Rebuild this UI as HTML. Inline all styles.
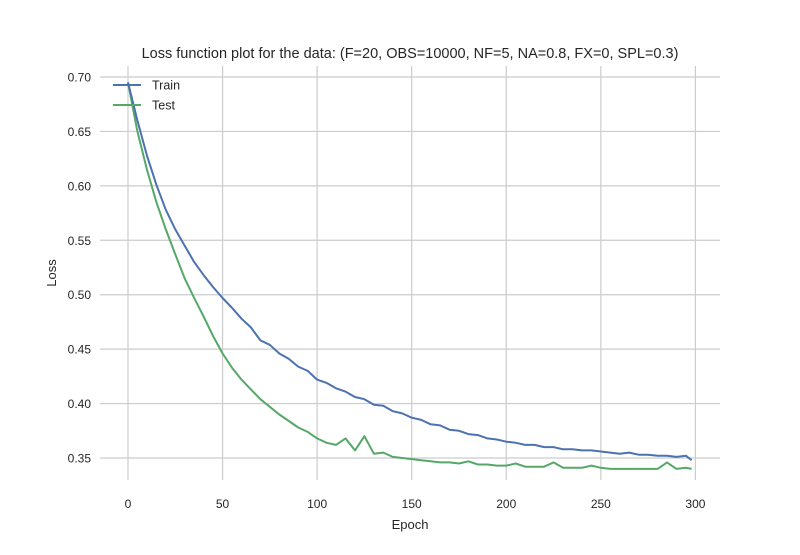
<!DOCTYPE html>
<html><head><meta charset="utf-8"><style>
body{margin:0;background:#fff;}
text{font-family:"Liberation Sans",sans-serif;fill:#262626;}
</style></head><body>
<svg id="chart" width="800" height="550" xmlns="http://www.w3.org/2000/svg">
<rect width="800" height="550" fill="#fff"/>
<g id="grid"></g>
<g id="ticks"></g>
<g id="series"></g>
<text x="410" y="58" font-size="14.5" text-anchor="middle">Loss function plot for the data: (F=20, OBS=10000, NF=5, NA=0.8, FX=0, SPL=0.3)</text>
<text x="410" y="529" font-size="13" text-anchor="middle">Epoch</text>
<text x="56" y="273" font-size="13" text-anchor="middle" transform="rotate(-90 56 273)">Loss</text>
<g>
<line x1="113" y1="85" x2="141" y2="85" stroke="#4c72b0" stroke-width="2"/>
<text x="152" y="89.5" font-size="12.5">Train</text>
<line x1="113" y1="105" x2="141" y2="105" stroke="#55a868" stroke-width="2"/>
<text x="152" y="109.5" font-size="12.5">Test</text>
</g>
</svg>
<script>
const epochs = [0,5,10,15,20,25,30,35,40,45,50,55,60,65,70,75,80,85,90,95,100,105,110,115,120,125,130,135,140,145,150,155,160,165,170,175,180,185,190,195,200,205,210,215,220,225,230,235,240,245,250,255,260,265,270,275,280,285,290,295,298];
const trainLoss = [0.695,0.660,0.628,0.601,0.578,0.560,0.545,0.530,0.518,0.507,0.497,0.488,0.478,0.470,0.458,0.454,0.446,0.441,0.434,0.430,0.422,0.419,0.414,0.411,0.406,0.404,0.399,0.398,0.393,0.391,0.387,0.385,0.381,0.380,0.376,0.375,0.372,0.371,0.368,0.367,0.365,0.364,0.362,0.362,0.360,0.360,0.358,0.358,0.357,0.357,0.356,0.355,0.354,0.355,0.353,0.353,0.352,0.352,0.351,0.352,0.348];
const testLoss = [0.695,0.650,0.615,0.585,0.560,0.537,0.515,0.497,0.480,0.462,0.446,0.433,0.422,0.413,0.404,0.397,0.390,0.384,0.378,0.374,0.368,0.364,0.362,0.368,0.357,0.370,0.354,0.355,0.351,0.350,0.349,0.348,0.347,0.346,0.346,0.345,0.347,0.344,0.344,0.343,0.343,0.345,0.342,0.342,0.342,0.346,0.341,0.341,0.341,0.343,0.341,0.340,0.340,0.340,0.340,0.340,0.340,0.346,0.340,0.341,0.340];
const xTicks = [0,50,100,150,200,250,300];
const yTicks = [0.35,0.40,0.45,0.50,0.55,0.60,0.65,0.70];
const yTickLabels = ["0.35","0.40","0.45","0.50","0.55","0.60","0.65","0.70"];

const X0=100,X1=720,Y0=66,Y1=480;
const xMin=-14.8,xMax=313,yMin=0.3298,yMax=0.7101;
const sx=v=>X0+(v-xMin)/(xMax-xMin)*(X1-X0);
const sy=v=>Y1-(v-yMin)/(yMax-yMin)*(Y1-Y0);
const NS="http://www.w3.org/2000/svg";
const grid=document.getElementById('grid'),ticks=document.getElementById('ticks'),series=document.getElementById('series');
function mk(tag,attrs,parent){const e=document.createElementNS(NS,tag);for(const k in attrs)e.setAttribute(k,attrs[k]);parent.appendChild(e);return e;}
xTicks.forEach(t=>{
  const l=mk('line',{x1:sx(t),x2:sx(t),y1:Y0,y2:Y1,stroke:'#cccccc','stroke-width':1.2},grid);
  
  
  const tx=mk('text',{x:sx(t),y:Y1+28,'font-size':12,'text-anchor':'middle'},ticks);
  
  
  tx.textContent=t;
});
yTicks.forEach((t,i)=>{
  const l=mk('line',{x1:X0,x2:X1,y1:sy(t),y2:sy(t),stroke:'#cccccc','stroke-width':1.2},grid);
  
  
  const tx=mk('text',{x:X0-9,y:sy(t)+4.5,'font-size':12,'text-anchor':'end'},ticks);
  
  
  tx.textContent=yTickLabels[i];
});
function line(vals,color,name){
  const d=vals.map((v,i)=>(i?'L':'M')+sx(epochs[i]).toFixed(1)+','+sy(v).toFixed(1)).join('');
  const p=mk('path',{d:d,fill:'none',stroke:color,'stroke-width':2,'stroke-linejoin':'round'},series);
  
  
}
line(testLoss,'#55a868','test-line');
line(trainLoss,'#4c72b0','train-line');
</script>
</body></html>
